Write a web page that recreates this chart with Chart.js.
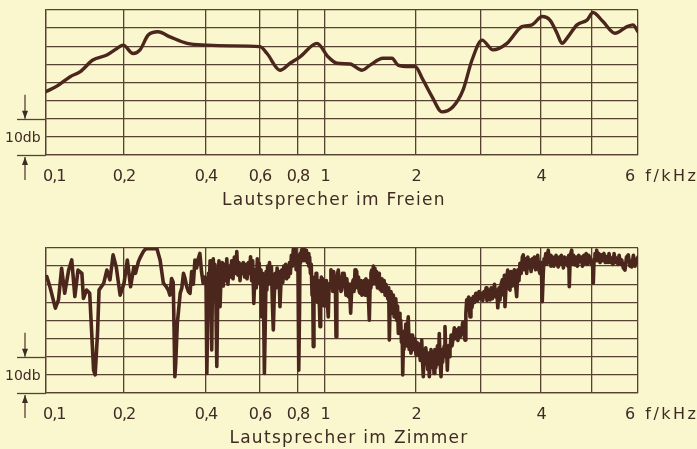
<!DOCTYPE html>
<html>
<head>
<meta charset="utf-8">
<script src="https://cdn.jsdelivr.net/npm/chart.js@4.4.1/dist/chart.umd.min.js"></script>
<style>
  html, body { margin: 0; padding: 0; background: #faf6ce; }
  #wrap { position: relative; width: 697px; height: 449px; overflow: hidden; }
  canvas { position: absolute; left: 0; }
  #freien-canvas { top: 0; }
  #zimmer-canvas { top: 220px; }
</style>
</head>
<body>
<div id="wrap">
  <canvas id="freien-canvas" width="697" height="220"></canvas>
  <canvas id="zimmer-canvas" width="697" height="229"></canvas>
</div>
<script>
// --- DATA ---
// frequency grid of the recorder paper (kHz) and its printed labels
const gridKhz = [0.1, 0.2, 0.4, 0.6, 0.8, 1, 2, 3, 4, 5, 6];
const tickLabels = ['0,1', '0,2', '0,4', '0,6', '0,8', '1', '2', '', '4', '', '6 f/kHz'];
const titles = ['Lautsprecher im Freien', 'Lautsprecher im Zimmer'];

// loudspeaker outdoors (level in dB above the bottom line)
const freienKhz = [0.1, 0.114, 0.131, 0.144, 0.160, 0.178, 0.191, 0.199, 0.222, 0.239,
  0.259, 0.283, 0.312, 0.354, 0.404, 0.489, 0.6, 0.637, 0.705, 0.758,
  0.815, 0.941, 1.033, 1.132, 1.275, 1.407, 1.495, 1.637, 1.736, 1.802,
  1.934, 1.989, 2.108, 2.246, 2.400, 2.569, 2.723, 2.862, 3.017, 3.200,
  3.433, 3.683, 3.850, 4.020, 4.176, 4.314, 4.412, 4.529, 4.706, 4.902,
  5.022, 5.239, 5.500, 5.761, 5.891, 6.0];
const freienDb = [17.5, 19.0, 21.6, 23.0, 26.2, 27.6, 29.4, 30.3, 28.0, 29.0,
  33.1, 34.0, 32.6, 30.8, 30.3, 30.1, 29.9, 28.0, 23.4, 25.3,
  27.1, 30.8, 27.1, 25.3, 25.1, 23.4, 24.8, 26.7, 26.7, 24.8,
  24.4, 24.4, 20.7, 16.1, 11.9, 13.3, 17.9, 26.2, 31.7, 29.0,
  30.8, 35.4, 35.9, 38.2, 37.2, 33.6, 30.8, 32.6, 35.9, 37.2,
  39.3, 36.8, 33.6, 35.4, 35.9, 34.0];

// loudspeaker in the room (same rows in both arrays)
const zimmerKhz = [
  0.101, 0.105, 0.112, 0.116, 0.120, 0.124, 0.129, 0.133, 0.137, 0.141, 0.146, 0.148, 0.152,
  0.156, 0.161, 0.163, 0.166, 0.168, 0.174, 0.178, 0.182, 0.186, 0.190, 0.195, 0.200,
  0.208, 0.216, 0.224, 0.228, 0.235, 0.240, 0.247, 0.253, 0.263, 0.270, 0.280, 0.288, 0.296,
  0.302, 0.308, 0.312, 0.316, 0.320, 0.322, 0.324, 0.326, 0.330, 0.337, 0.341, 0.345,
  0.349, 0.353, 0.357, 0.361, 0.365, 0.369, 0.373, 0.377, 0.381, 0.385, 0.389, 0.393, 0.397,
  0.400, 0.403, 0.406, 0.409, 0.412, 0.415, 0.418, 0.421, 0.424, 0.427, 0.430, 0.433, 0.436,
  0.440, 0.444, 0.448, 0.452, 0.456, 0.460, 0.464, 0.468, 0.472, 0.477, 0.481, 0.486, 0.490,
  0.495, 0.500, 0.505, 0.510, 0.514, 0.518, 0.522, 0.526, 0.530, 0.534, 0.538, 0.543, 0.548,
  0.552, 0.557, 0.561, 0.565, 0.569, 0.573, 0.577, 0.582, 0.586, 0.590, 0.594, 0.597,
  0.600, 0.605, 0.609, 0.614, 0.618, 0.623, 0.628, 0.632, 0.636, 0.640, 0.645, 0.650, 0.655, 0.660,
  0.665, 0.670, 0.675, 0.680, 0.685, 0.690, 0.695, 0.700, 0.705, 0.710, 0.715, 0.720, 0.725, 0.730,
  0.735, 0.740, 0.745, 0.750, 0.755, 0.760, 0.765, 0.770, 0.775, 0.780, 0.785, 0.790, 0.795, 0.800,
  0.804, 0.807, 0.811, 0.815, 0.820, 0.826, 0.832, 0.838, 0.844, 0.850, 0.856, 0.862, 0.868,
  0.874, 0.880, 0.886, 0.892, 0.898, 0.904, 0.909, 0.913, 0.918, 0.923, 0.928, 0.934,
  0.939, 0.945, 0.950, 0.956, 0.963, 0.968, 0.973, 0.978, 0.983, 0.987, 0.993, 0.998,
  1.005, 1.015, 1.025, 1.036, 1.045, 1.055, 1.065, 1.074, 1.085, 1.095, 1.105, 1.113, 1.121, 1.130,
  1.138, 1.146, 1.155, 1.165, 1.175, 1.183, 1.192, 1.200, 1.210, 1.220, 1.230, 1.240, 1.248, 1.256,
  1.264, 1.272, 1.282, 1.292, 1.302, 1.311, 1.320, 1.330, 1.340, 1.348, 1.358, 1.368, 1.376, 1.385,
  1.395, 1.405, 1.413, 1.421, 1.430, 1.440, 1.450, 1.458, 1.467, 1.476, 1.487, 1.495, 1.505, 1.513,
  1.522, 1.531, 1.540, 1.549, 1.558, 1.567, 1.576, 1.586, 1.596, 1.606, 1.616, 1.626, 1.634, 1.641,
  1.650, 1.660, 1.670, 1.678, 1.690, 1.700, 1.707, 1.715, 1.725, 1.733, 1.742, 1.751, 1.760, 1.769,
  1.778, 1.788, 1.797, 1.806, 1.815, 1.824, 1.832, 1.840, 1.848, 1.854, 1.860, 1.868, 1.879, 1.888,
  1.897, 1.906, 1.915, 1.925, 1.935, 1.944, 1.953, 1.962, 1.971, 1.980, 1.989,
  2.000, 2.015, 2.035, 2.050, 2.065, 2.080, 2.088, 2.100, 2.112, 2.125, 2.140, 2.150, 2.165, 2.180,
  2.190, 2.205, 2.220, 2.230, 2.242, 2.255, 2.265, 2.277, 2.290, 2.305, 2.318, 2.330, 2.345, 2.358,
  2.370, 2.385, 2.400, 2.410, 2.420, 2.435, 2.446, 2.460, 2.470, 2.482, 2.495, 2.510, 2.523, 2.540,
  2.555, 2.574, 2.590, 2.605, 2.626, 2.645, 2.660, 2.680, 2.703, 2.720, 2.740, 2.754, 2.767, 2.780,
  2.795, 2.810, 2.831, 2.845, 2.860, 2.882, 2.900, 2.920, 2.934, 2.950, 2.970, 2.985,
  3.010, 3.030, 3.050, 3.067, 3.085, 3.100, 3.120, 3.135, 3.150, 3.170, 3.190, 3.205, 3.225, 3.245,
  3.262, 3.280, 3.300, 3.317, 3.335, 3.355, 3.375, 3.390, 3.400, 3.420, 3.445, 3.465, 3.483, 3.500,
  3.520, 3.538, 3.555, 3.575, 3.595, 3.615, 3.633, 3.650, 3.670, 3.690, 3.705, 3.725, 3.745,
  3.762, 3.780, 3.800, 3.817, 3.835, 3.855, 3.872, 3.890, 3.910, 3.928, 3.945, 3.965, 3.983,
  4.005, 4.025, 4.045, 4.060, 4.078, 4.095, 4.115, 4.130, 4.143, 4.160, 4.180, 4.195, 4.210,
  4.230, 4.250, 4.275, 4.295, 4.315, 4.339, 4.360, 4.380, 4.400, 4.418, 4.440, 4.460,
  4.480, 4.504, 4.525, 4.545, 4.555, 4.570, 4.585, 4.602, 4.620, 4.640, 4.667, 4.690,
  4.715, 4.740, 4.765, 4.790, 4.815, 4.840, 4.863, 4.885, 4.910, 4.935, 4.961, 4.985,
  5.010, 5.028, 5.045, 5.065, 5.085, 5.102, 5.125, 5.150, 5.175, 5.211, 5.235, 5.260,
  5.290, 5.320, 5.345, 5.370, 5.400, 5.428, 5.455, 5.480, 5.510, 5.537, 5.565, 5.590,
  5.620, 5.646, 5.680, 5.717, 5.750, 5.789, 5.825, 5.863, 5.900, 5.935, 5.972, 6.000];
const zimmerDb = [
  32.1, 29.3, 23.4, 25.7, 34.4, 27.5, 33.9, 36.7, 26.6, 33.9, 33.0, 26.1, 28.4,
  27.5, 6.3, 5.0, 16.4, 28.4, 30.3, 33.9, 31.2, 38.1, 34.8, 27.0, 30.3,
  36.7, 29.3, 34.8, 33.0, 36.2, 37.5, 39.0, 39.8, 39.9, 39.8, 39.9, 36.7, 30.3,
  29.5, 28.4, 27.0, 31.6, 30.5, 18.0, 4.5, 8.0, 19.2, 27.5, 29.0, 33.0,
  31.5, 29.3, 28.0, 27.5, 33.5, 30.0, 36.7, 34.5, 37.0, 38.5, 33.5, 30.3, 32.0,
  31.0, 5.4, 20.0, 33.0, 28.4, 36.5, 30.0, 11.9, 31.0, 37.0, 30.5, 35.5, 28.0,
  7.3, 30.0, 36.5, 23.8, 33.0, 36.0, 29.5, 35.5, 31.0, 37.0, 30.0, 35.0, 32.0,
  36.5, 31.5, 37.5, 33.0, 39.0, 32.5, 36.0, 31.0, 35.5, 33.0, 36.0, 32.0, 35.5,
  31.5, 36.0, 33.0, 37.6, 31.0, 36.5, 24.7, 34.0, 29.0, 37.0, 32.0, 35.8,
  30.0, 34.0, 21.0, 33.0, 28.0, 5.4, 20.0, 33.5, 28.4, 35.0, 30.0, 36.0, 31.0, 34.8,
  25.0, 17.4, 27.0, 33.0, 29.0, 34.5, 31.0, 33.5, 23.8, 30.0, 34.0, 30.5, 35.0, 32.0,
  35.5, 31.5, 34.5, 32.0, 36.0, 33.0, 38.0, 35.0, 39.6, 36.0, 39.8, 34.0, 38.0, 33.0,
  20.0, 6.3, 22.0, 38.5, 36.0, 39.5, 37.0, 39.8, 36.5, 39.5, 37.5, 39.4, 36.0,
  38.5, 35.0, 37.5, 33.0, 35.5, 27.0, 31.0, 12.8, 24.0, 32.0, 27.0, 33.0,
  30.3, 25.0, 31.0, 27.0, 18.3, 26.0, 32.0, 27.0, 31.5, 29.3, 24.0, 30.0,
  27.0, 31.0, 25.0, 21.0, 30.0, 30.3, 34.0, 33.0, 28.0, 33.5, 29.0, 32.0, 15.5, 28.0,
  33.0, 33.9, 29.0, 32.0, 28.0, 28.4, 33.0, 29.5, 33.0, 31.2, 27.0, 31.5, 28.0, 26.6,
  30.0, 27.5, 22.0, 28.0, 30.5, 31.2, 28.0, 34.0, 30.0, 33.6, 29.0, 32.0, 28.0, 27.5,
  31.0, 27.0, 30.5, 28.4, 31.0, 27.0, 31.5, 28.4, 31.0, 27.0, 20.1, 29.0, 33.0, 33.9,
  30.0, 35.0, 31.0, 34.4, 30.0, 33.5, 29.0, 30.3, 33.0, 28.5, 31.5, 28.0, 31.0, 28.4,
  31.0, 27.0, 30.0, 28.4, 26.0, 29.0, 14.6, 24.0, 28.0, 26.6, 22.0, 27.0, 21.0, 23.8,
  26.0, 20.0, 24.0, 16.4, 22.0, 17.0, 20.1, 14.0, 17.0, 5.0, 12.0, 17.0, 14.6, 19.0,
  13.0, 18.0, 21.0, 12.0, 16.0, 11.0, 11.9, 16.0, 12.0, 15.0, 13.7,
  10.5, 14.0, 10.9, 13.5, 9.0, 12.0, 14.6, 9.0, 4.5, 12.0, 8.0, 12.5, 10.0, 6.5,
  11.0, 4.5, 9.5, 12.0, 10.9, 7.0, 10.5, 5.4, 12.0, 7.0, 9.1, 13.0, 8.0, 16.4,
  9.0, 4.5, 12.0, 8.5, 10.9, 13.0, 18.3, 10.0, 12.0, 6.3, 13.0, 10.0, 11.9, 16.0,
  13.0, 15.5, 18.0, 15.0, 17.4, 14.5, 18.0, 15.5, 17.4, 19.5, 16.0, 14.6, 22.0, 25.7,
  23.0, 26.5, 21.0, 26.0, 23.5, 26.6, 25.0, 27.5, 27.5, 25.5, 28.0, 26.1,
  27.5, 25.5, 28.0, 27.0, 29.0, 25.5, 28.5, 26.0, 25.7, 29.0, 26.0, 27.5, 30.0, 26.5,
  28.4, 23.5, 29.0, 25.7, 30.0, 31.2, 27.0, 32.5, 23.8, 30.0, 33.9, 29.0, 28.4, 33.5,
  29.5, 32.1, 34.0, 30.0, 26.6, 34.0, 31.0, 35.8, 33.0, 37.5, 38.1, 34.0, 37.0,
  33.0, 37.5, 34.5, 36.7, 33.5, 37.0, 34.8, 37.5, 34.0, 35.8, 38.0, 34.0, 33.0,
  36.0, 25.2, 33.0, 37.0, 36.7, 38.5, 35.5, 38.0, 39.4, 36.0, 38.0, 35.0, 35.3,
  37.5, 35.0, 36.2, 38.0, 35.5, 34.8, 37.5, 35.5, 38.0, 36.7, 34.5, 37.5,
  35.5, 37.2, 35.0, 38.0, 29.3, 36.0, 38.5, 39.4, 35.5, 38.0, 35.3, 37.5,
  35.0, 38.0, 36.2, 37.5, 35.0, 38.0, 35.8, 38.5, 35.5, 38.0, 37.2, 35.5,
  36.0, 30.3, 37.0, 38.5, 36.5, 39.4, 36.5, 38.5, 36.0, 38.1, 36.5, 38.5,
  36.0, 37.6, 36.0, 38.5, 36.0, 37.2, 35.5, 38.5, 36.0, 37.2, 35.5, 38.0,
  35.5, 36.7, 34.5, 33.9, 37.5, 38.1, 35.0, 34.8, 38.0, 35.0, 36.7, 37.5];

// --- STYLE ---
const INK = '#4a261c';
const GRID = '#574232';
const TEXT = '#3f2b24';
const FONT = "'DejaVu Sans', sans-serif";

// where each grid frequency sits across the paper width (0..1)
const paperStops = [0, 0.1318, 0.2703, 0.3615, 0.4257, 0.4713, 0.6250, 0.7348, 0.8361, 0.9223, 1];

function paperDecimal(f) {
    if (f <= gridKhz[0]) return 0;
    for (let i = 0; i < gridKhz.length - 1; i++) {
        if (f <= gridKhz[i + 1]) {
            const t = (f - gridKhz[i]) / (gridKhz[i + 1] - gridKhz[i]);
            return paperStops[i] + t * (paperStops[i + 1] - paperStops[i]);
        }
    }
    return 1;
}

// recorder paper frequency axis: piecewise scale between the printed grid lines
class PaperScale extends Chart.LinearScale {
    buildTicks() {
        return gridKhz.map(v => ({ value: v }));
    }
    getPixelForValue(value) {
        if (value === null || isNaN(value)) return NaN;
        return this.getPixelForDecimal(paperDecimal(value));
    }
    getValueForPixel(pixel) {
        const d = this.getDecimalForPixel(pixel);
        for (let i = 0; i < paperStops.length - 1; i++) {
            if (d <= paperStops[i + 1]) {
                const t = (d - paperStops[i]) / (paperStops[i + 1] - paperStops[i]);
                return gridKhz[i] + t * (gridKhz[i + 1] - gridKhz[i]);
            }
        }
        return gridKhz[gridKhz.length - 1];
    }
}
PaperScale.id = 'paper';
PaperScale.defaults = {};
Chart.register(PaperScale);

function arrow(ctx, x, tipY, tailY) {
    const dir = tailY > tipY ? 1 : -1;
    ctx.beginPath();
    ctx.moveTo(x, tailY);
    ctx.lineTo(x, tipY);
    ctx.stroke();
    ctx.beginPath();
    ctx.moveTo(x, tipY);
    ctx.lineTo(x - 3, tipY + dir * 8);
    ctx.lineTo(x + 3, tipY + dir * 8);
    ctx.closePath();
    ctx.fill();
}

// labels, the 10 db marker and the caption, placed from the chart's scales
const paperLabels = {
    id: 'paperLabels',
    afterDraw(chart, args, opts) {
        const { ctx, chartArea } = chart;
        const x = chart.scales.x;
        const y = chart.scales.y;
        ctx.save();
        ctx.strokeStyle = GRID;
        ctx.fillStyle = TEXT;
        ctx.lineWidth = 1.3;

        // the 10 db bracket left of the grid
        [0, 10].forEach(v => {
            const py = Math.round(y.getPixelForValue(v)) + 0.5;
            ctx.beginPath();
            ctx.moveTo(17, py);
            ctx.lineTo(chartArea.left, py);
            ctx.stroke();
        });
        const y10 = y.getPixelForValue(10);
        const y0 = y.getPixelForValue(0);
        arrow(ctx, 25, y10, y10 - 24);
        arrow(ctx, 25, y0 + 2, y0 + 25);
        ctx.font = '14px ' + FONT;
        ctx.textAlign = 'left';
        ctx.textBaseline = 'alphabetic';
        ctx.fillText('10db', 5, y.getPixelForValue(5) + 5);

        // frequency labels
        ctx.font = '16px ' + FONT;
        const base = chartArea.bottom + 26;
        gridKhz.forEach((v, i) => {
            const label = tickLabels[i];
            if (!label) return;
            const px = x.getPixelForValue(v);
            if (i === 0) {
                ctx.letterSpacing = '-1px';
                ctx.textAlign = 'left';
                ctx.fillText(label, px - 3, base);
            } else if (i === gridKhz.length - 1) {
                ctx.letterSpacing = '2.5px';
                ctx.textAlign = 'left';
                ctx.fillText(label, px - 13, base);
            } else {
                ctx.letterSpacing = '-1px';
                ctx.textAlign = 'center';
                ctx.fillText(label, px, base);
            }
        });

        // caption
        ctx.font = '17px ' + FONT;
        ctx.letterSpacing = '1.3px';
        ctx.textAlign = 'center';
        ctx.fillText(opts.title, opts.titleX, chartArea.bottom + 50);
        ctx.restore();
    }
};

function buildChart(canvasId, khz, db, title, titleX, padding, smooth) {
    const gridStyle = { color: GRID, lineWidth: 1.3, drawTicks: false };
    return new Chart(document.getElementById(canvasId), {
        type: 'line',
        data: {
            datasets: [{
                data: khz.map((f, i) => ({ x: f, y: db[i] })),
                borderColor: INK,
                borderWidth: smooth ? 3.4 : 3.6,
                borderJoinStyle: 'round',
                borderCapStyle: 'round',
                pointRadius: 0,
                cubicInterpolationMode: smooth ? 'monotone' : 'default',
                tension: 0,
                fill: false
            }]
        },
        options: {
            responsive: false,
            animation: false,
            devicePixelRatio: 1,
            layout: { padding },
            plugins: {
                legend: { display: false },
                tooltip: { enabled: false },
                paperLabels: { title, titleX }
            },
            scales: {
                x: {
                    type: 'paper',
                    min: 0.1,
                    max: 6,
                    ticks: { display: false },
                    grid: gridStyle,
                    border: { color: GRID, width: 1.3 },
                    afterFit: s => { s.height = 0; }
                },
                y: {
                    min: 0,
                    max: 40,
                    ticks: { display: false, stepSize: 5 },
                    grid: gridStyle,
                    border: { color: GRID, width: 1.3 },
                    afterFit: s => { s.width = 0; }
                }
            }
        },
        plugins: [paperLabels]
    });
}

// --- START ---
buildChart('freien-canvas', freienKhz, freienDb, titles[0], 334,
    { left: 46, right: 59, top: 10, bottom: 65 }, true);
buildChart('zimmer-canvas', zimmerKhz, zimmerDb, titles[1], 349,
    { left: 46, right: 59, top: 28, bottom: 56 }, false);
</script>
</body>
</html>
